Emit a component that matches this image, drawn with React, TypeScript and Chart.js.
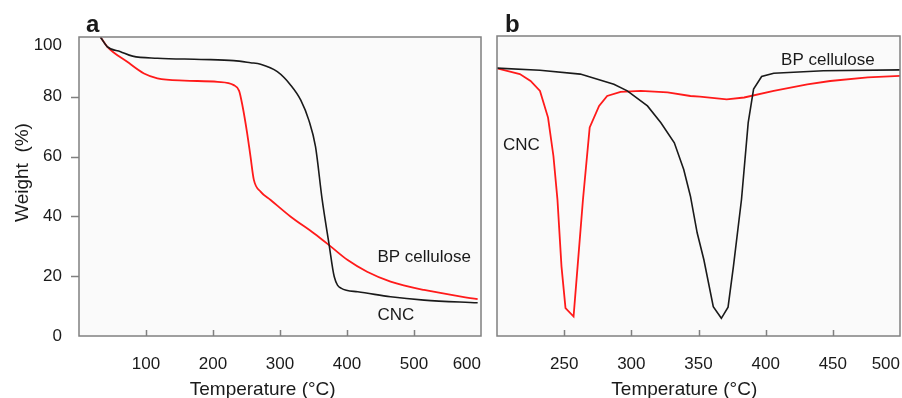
import React, { useEffect, useRef } from 'react';
import { Chart, registerables } from 'chart.js';

Chart.register(...registerables);

const FONT = "'Liberation Sans', Arial, Helvetica, sans-serif";
const TEXT = '#1a1a1a';
const RED = '#ff1a1a';
const BLACK = '#1a1a1a';

// ---------- Panel a: TGA ----------
const tgaTempTicks = [0, 100, 200, 300, 400, 500, 600];
const tgaWeightTicks = [0, 20, 40, 60, 80, 100];

// black curve (labelled "CNC")
const tgaCncTemp = [32, 42, 62, 80, 117, 182, 231, 256, 271, 296, 316, 331, 343, 353, 363, 373, 381, 391, 416, 465, 515, 595];
const tgaCncWeight = [100, 96.8, 95.1, 93.6, 92.9, 92.5, 92.1, 91.4, 90.9, 88.4, 83.9, 78.9, 72.2, 63.3, 45.5, 31.0, 19.8, 16.0, 14.8, 13.1, 12.0, 11.1];

// red curve (labelled "BP cellulose")
const tgaBpTemp = [32, 42, 72, 97, 117, 157, 207, 231, 239, 244, 251, 256, 261, 271, 286, 316, 351, 376, 401, 430, 465, 515, 595];
const tgaBpWeight = [100, 96.8, 91.7, 87.8, 86.2, 85.4, 85.0, 83.9, 82.0, 77.0, 67.8, 60.0, 52.2, 48.3, 45.5, 39.9, 34.3, 29.9, 25.4, 21.5, 18.2, 15.4, 12.3];

// ---------- Panel b: DTG ----------
const dtgTempTicks = [200, 250, 300, 350, 400, 450, 500];

// black curve (labelled "BP cellulose")
const dtgBpTemp = [200, 232, 262, 287, 297, 312, 322, 332, 339, 344, 349, 354, 361, 367, 372, 376, 382, 387, 391, 397, 406, 443, 500];
const dtgBpValue = [89.3, 88.6, 87.3, 83.9, 81.7, 76.7, 71.1, 64.4, 55.5, 46.6, 34.4, 25.4, 9.8, 5.9, 9.6, 23.2, 45.5, 71.1, 82.3, 86.5, 87.6, 88.4, 88.7];

// red curve (labelled "CNC")
const dtgCncTemp = [200, 217, 225, 232, 238, 242, 245, 248, 251, 257, 260, 264, 269, 276, 282, 292, 307, 327, 344, 351, 371, 384, 406, 431, 448, 476, 500];
const dtgCncValue = [89.2, 87.3, 85.0, 81.7, 72.8, 60.0, 45.5, 23.2, 9.3, 6.5, 23.2, 45.5, 69.5, 76.7, 80.0, 81.4, 81.7, 81.2, 80.0, 79.8, 78.9, 79.5, 81.7, 83.9, 85.0, 86.2, 86.7];

const toPoints = (xs: number[], ys: number[]) => xs.map((x, i) => ({ x, y: ys[i] }));

const decorPlugin = {
  id: 'decor',
  beforeDraw(chart: any, _a: any, opts: any) {
    const { ctx, chartArea: a } = chart;
    ctx.save();
    ctx.fillStyle = opts.bg;
    ctx.fillRect(a.left, a.top, a.right - a.left, a.bottom - a.top);
    ctx.restore();
  },
  afterDatasetsDraw(chart: any, _a: any, opts: any) {
    const { ctx, chartArea: a } = chart;
    const xs = chart.scales.x;
    const ys = chart.scales.y;
    ctx.save();
    ctx.strokeStyle = opts.frame;
    ctx.lineWidth = 1.5;
    ctx.strokeRect(a.left, a.top, a.right - a.left, a.bottom - a.top);
    ctx.beginPath();
    xs.ticks.forEach((t: any) => {
      if (t.value > xs.min && t.value < xs.max) {
        const px = Math.round(xs.getPixelForValue(t.value)) + 0.5;
        ctx.moveTo(px, a.bottom);
        ctx.lineTo(px, a.bottom - 6);
      }
    });
    if (opts.yTicks) {
      ys.ticks.forEach((t: any) => {
        if (t.value > ys.min && t.value < ys.max) {
          const py = Math.round(ys.getPixelForValue(t.value)) + 0.5;
          ctx.moveTo(a.left - 8, py);
          ctx.lineTo(a.left, py);
        }
      });
    }
    ctx.stroke();
    ctx.fillStyle = TEXT;
    (opts.texts || []).forEach((t: any) => {
      const px = t.data ? xs.getPixelForValue(t.x) : t.x;
      const py = t.data ? ys.getPixelForValue(t.y) : t.y;
      ctx.save();
      ctx.font = t.font;
      ctx.textAlign = t.align || 'left';
      ctx.textBaseline = 'alphabetic';
      ctx.translate(px, py);
      if (t.rotate) ctx.rotate(t.rotate);
      ctx.fillText(t.text, 0, 0);
      ctx.restore();
    });
    ctx.restore();
  },
};

const tickFont = { family: FONT, size: 17 };

function makeA(): any {
  return {
    type: 'line',
    data: {
      datasets: [
        { data: toPoints(tgaCncTemp, tgaCncWeight), borderColor: BLACK, borderWidth: 1.6, pointRadius: 0, cubicInterpolationMode: 'monotone' },
        { data: toPoints(tgaBpTemp, tgaBpWeight), borderColor: RED, borderWidth: 1.8, pointRadius: 0, cubicInterpolationMode: 'monotone' },
      ],
    },
    options: {
      responsive: false,
      animation: false,
      layout: { padding: { left: 0, right: 9, top: 37, bottom: 0 } },
      plugins: {
        legend: { display: false },
        tooltip: { enabled: false },
        decor: {
          bg: '#fafafa',
          frame: '#808080',
          yTicks: true,
          texts: [
            { text: 'a', font: `bold 24px ${FONT}`, x: 86, y: 31.5 },
            { text: 'Temperature (°C)', font: `19px ${FONT}`, x: 262.7, y: 395, align: 'center' },
            { text: 'Weight  (%)', font: `19px ${FONT}`, x: 28, y: 172.5, align: 'center', rotate: -Math.PI / 2 },
            { text: 'BP cellulose', font: `17px ${FONT}`, x: 445.4, y: 24.9, data: true },
            { text: 'CNC', font: `17px ${FONT}`, x: 445.4, y: 5.4, data: true },
          ],
        },
      },
      scales: {
        x: {
          type: 'linear',
          min: 0,
          max: 600,
          afterBuildTicks: (s: any) => { s.ticks = tgaTempTicks.map((v) => ({ value: v })); },
          afterFit: (s: any) => { s.height = 62; s.paddingLeft = 0; s.paddingRight = 0; },
          grid: { display: false },
          border: { display: false },
          ticks: {
            align: 'inner',
            padding: 10,
            color: TEXT,
            font: tickFont,
            maxRotation: 0,
            autoSkip: false,
            callback: (v: any) => (v === 0 ? '' : String(v)),
          },
        },
        y: {
          type: 'linear',
          min: 0,
          max: 100,
          afterBuildTicks: (s: any) => { s.ticks = tgaWeightTicks.map((v) => ({ value: v })); },
          afterFit: (s: any) => { s.width = 79; s.paddingTop = 0; s.paddingBottom = 0; },
          grid: { display: false },
          border: { display: false },
          ticks: {
            padding: 9,
            color: TEXT,
            font: { family: FONT, size: 17, lineHeight: 0.95 },
            autoSkip: false,
            callback: (v: any) => (v === 100 ? ['', '100'] : String(v)),
          },
        },
      },
    },
    plugins: [decorPlugin],
  };
}

function makeB(): any {
  return {
    type: 'line',
    data: {
      datasets: [
        { data: toPoints(dtgBpTemp, dtgBpValue), borderColor: BLACK, borderWidth: 1.6, pointRadius: 0, tension: 0 },
        { data: toPoints(dtgCncTemp, dtgCncValue), borderColor: RED, borderWidth: 1.8, pointRadius: 0, tension: 0 },
      ],
    },
    options: {
      responsive: false,
      animation: false,
      layout: { padding: { left: 7, right: 2, top: 36, bottom: 0 } },
      plugins: {
        legend: { display: false },
        tooltip: { enabled: false },
        decor: {
          bg: '#fafafa',
          frame: '#808080',
          yTicks: false,
          texts: [
            { text: 'b', font: `bold 24px ${FONT}`, x: 15, y: 31.5 },
            { text: 'Temperature (°C)', font: `19px ${FONT}`, x: 194.3, y: 395, align: 'center' },
            { text: 'CNC', font: `17px ${FONT}`, x: 204.5, y: 62, data: true },
            { text: 'BP cellulose', font: `17px ${FONT}`, x: 411.5, y: 90.3, data: true },
          ],
        },
      },
      scales: {
        x: {
          type: 'linear',
          min: 200,
          max: 500,
          afterBuildTicks: (s: any) => { s.ticks = dtgTempTicks.map((v) => ({ value: v })); },
          afterFit: (s: any) => { s.height = 62; s.paddingLeft = 0; s.paddingRight = 0; },
          grid: { display: false },
          border: { display: false },
          ticks: {
            align: 'inner',
            padding: 10,
            color: TEXT,
            font: tickFont,
            maxRotation: 0,
            autoSkip: false,
            callback: (v: any) => (v === 200 ? '' : String(v)),
          },
        },
        y: {
          type: 'linear',
          display: false,
          min: 0,
          max: 100,
        },
      },
    },
    plugins: [decorPlugin],
  };
}

function Panel({ left, width, make }: { left: number; width: number; make: () => any }) {
  const ref = useRef<HTMLCanvasElement>(null);
  useEffect(() => {
    const chart = new Chart(ref.current as HTMLCanvasElement, make());
    return () => chart.destroy();
  }, []);
  return (
    <canvas
      ref={ref}
      width={width}
      height={398}
      style={{ position: 'absolute', left, top: 0, width, height: 398, display: 'block' }}
    />
  );
}

export default function App() {
  return (
    <div style={{ position: 'absolute', left: 0, top: 0, width: 902, height: 398, background: '#ffffff', overflow: 'hidden' }}>
      <Panel left={0} width={490} make={makeA} />
      <Panel left={490} width={412} make={makeB} />
    </div>
  );
}
